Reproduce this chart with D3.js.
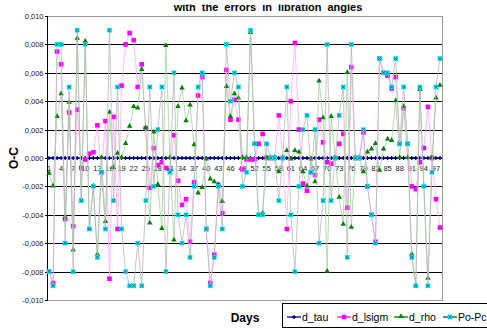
<!DOCTYPE html>
<html lang="en">
<head>
<meta charset="UTF-8">
<title>O-C with the errors in libration angles</title>
<style>
    body { margin: 0; background: #fff; }
    svg { display: block; font-family: "Liberation Sans", Arial, sans-serif; }
    .grid line { stroke: #000; stroke-width: 1; shape-rendering: crispEdges; }
    .axis text { font-size: 7.5px; fill: #222; }
    .axis path, .axis line { stroke: #000; shape-rendering: crispEdges; }
    .lineTau { stroke: #000080; stroke-width: 1; fill: none; }
    .lineLsigm { stroke: #ffaaff; stroke-width: 0.8; fill: none; }
    .lineRho { stroke: #a0d2a0; stroke-width: 0.8; fill: none; }
    .linePoPc { stroke: #b8b8b8; stroke-width: 0.8; fill: none; }
    .legend text { font-size: 10.5px; fill: #000; }
</style>
<script src="https://cdn.jsdelivr.net/npm/d3@7"></script>
</head>
<body>
<script>
    const days = [1,2,3,4,5,6,7,8,9,10,11,12,13,14,15,16,17,18,19,20,
        21,22,23,24,25,26,27,28,29,30,31,32,33,34,35,36,37,38,39,40,
        41,42,43,44,45,46,47,48,49,50,51,52,53,54,55,56,57,58,59,60,
        61,62,63,64,65,66,67,68,69,70,71,72,73,74,75,76,77,78,79,80,
        81,82,83,84,85,86,87,88,89,90,91,92,93,94,95,96,97,98];
    const dayLabels = [1,4,7,10,13,16,19,22,25,28,31,34,37,40,43,46,49,52,55,58,61,64,67,70,73,76,79,82,85,88,91,94,97];
    const yTicks = [-0.010,-0.008,-0.006,-0.004,-0.002,0,0.002,0.004,0.006,0.008,0.010];

    const dTau = [0,0,0,0,0,0,0,0,0,0,0,0,0,0,0,0,0,0,0,0,
        0,0,0,0,0,0,0,0,0,0,0,0,0,0,0,0,0,0,0,0,
        0,0,0,0,0,0,0,0,0,0,0,0,0,0,0,0,0,0,0,0,
        0,0,0,0,0,0,0,0,0,0,0,0,0,0,0,0,0,0,0,0,
        0,0,0,0,0,0,0,0,0,0,0,0,0,0,0,0,0,0];
    const dLsigm = [-0.008,-0.0088,0.0075,0.0066,-0.0043,0.0032,-0.0048,0.0034,-0.0007,-0.0001,
        0.0003,0.0004,0.0023,-0.001,0.0026,-0.0085,0.0029,-0.005,0.0051,0.008,
        0.0088,0.0083,0.005,0.0066,0.0021,-0.0021,0.0007,-0.0005,-0.0003,-0.0007,
        -0.0009,0.0016,-0.0016,-0.0033,-0.0029,-0.0059,-0.0017,0.0044,0.0057,-0.005,
        -0.0088,-0.0068,-0.0019,-0.0039,0.0062,0.0027,0.0041,0.0027,-0.0008,-0.0001,
        -0.0001,-0.0001,0.001,0.0017,0,0,0,0.003,0,-0.005,
        0.004,0.0081,0.002,-0.0018,-0.0023,-0.001,-0.0012,0.0027,0.0011,-0.0003,
        -0.0004,0,0.001,0.0017,-0.0035,0.0064,0,0,0.0018,-0.002,
        -0.004,-0.0059,0.007,0.006,0.0058,0.0049,0.0057,0.001,0.0035,0.001,
        -0.002,-0.0022,-0.0003,0.0007,0.0036,0,-0.0029,-0.0049];
    const dRho = [-0.0011,-0.002,0.0029,0.0045,-0.0042,0.0039,-0.0065,0.0084,-0.003,0.0082,
        -0.005,-0.002,-0.0068,0,-0.0045,0.0032,-0.0007,0.0003,0,0.001,
        0.0022,0.0036,0.0035,0.0062,0.0021,-0.0046,0.0018,-0.0019,-0.005,0.0079,
        0,-0.0058,0.0036,0.0049,0.0026,0.0037,0.0009,-0.0025,-0.0021,-0.0001,
        -0.0015,-0.0017,-0.0019,-0.0031,0.005,0.0029,0.0045,0.0042,0,0,
        0.0088,0.001,-0.004,-0.0039,0,0,0,-0.001,0,0.0005,
        -0.0001,0.0005,0.0004,-0.001,-0.002,-0.0001,-0.0017,0.0054,0.0028,-0.008,
        0.0029,0,-0.0028,-0.0047,0.006,-0.0049,0,0,-0.001,0.0004,
        0.0006,0.001,-0.0009,0.0006,0.0013,0.0012,0.004,0,0.0036,0,
        -0.0068,-0.009,0.0048,-0.002,-0.0085,0,0.0042,0.0051];
    const poPc = [-0.008,-0.009,0.008,0.008,-0.006,0.005,-0.008,0.009,-0.003,0.008,
        -0.005,-0.002,-0.007,-0.001,-0.005,0.009,-0.003,0.005,-0.005,-0.008,
        -0.009,-0.009,-0.006,-0.009,-0.003,0.005,-0.002,0.002,0.005,-0.008,
        -0.001,0.006,-0.004,-0.006,-0.004,-0.007,-0.002,0.005,0.006,-0.005,
        -0.009,-0.007,-0.002,-0.005,0.008,0.004,0.006,0.005,-0.002,-0.001,
        0.009,0.001,-0.004,-0.004,0.001,0,0,-0.003,0,0.005,
        -0.004,-0.008,-0.002,0.002,0.003,-0.001,0.002,-0.006,-0.003,0.008,
        -0.003,0,0.003,0.005,-0.007,0.008,0,0,0.002,-0.002,
        -0.004,-0.006,0.007,0.006,0.006,0.005,0.007,0.001,0.005,0.001,
        -0.007,-0.009,0.005,-0.002,-0.009,-0.001,0.005,0.007];

    const width = 487, height = 329;
    const margins = {top: 16, bottom: 29, left: 47, right: 45};

    const svg = d3.select("body").append("svg")
        .attr("width", width).attr("height", height);

    const xScale = d3.scaleBand()
        .domain(days)
        .range([margins.left, width - margins.right]);
    const xc = d => xScale(d) + xScale.bandwidth() / 2;
    const yScale = d3.scaleLinear()
        .domain([-0.01, 0.01])
        .range([height - margins.bottom, margins.top]);

    const fmt = d3.formatLocale({decimal: ",", thousands: ".", grouping: [3], currency: ["", ""], minus: "-"}).format(".3f");

    // title (only its lower part shows in the original)
    svg.append("clipPath").attr("id", "titleClip")
        .append("rect").attr("x", 0).attr("y", 4.5).attr("width", width).attr("height", 20);
    svg.append("text")
        .attr("clip-path", "url(#titleClip)")
        .attr("x", 268).attr("y", 10.5)
        .attr("text-anchor", "middle")
        .style("font-weight", "bold").style("font-size", "11px")
        .style("word-spacing", "3px")
        .text("with the errors in libration angles");

    // gridlines
    svg.append("g").attr("class", "grid")
        .selectAll("line")
        .data(yTicks.filter(v => Math.abs(v) < 0.0099))
        .enter().append("line")
        .attr("x1", margins.left).attr("x2", width - margins.right)
        .attr("y1", d => Math.round(yScale(d)) + 0.5)
        .attr("y2", d => Math.round(yScale(d)) + 0.5);

    // plot border
    svg.append("rect")
        .attr("x", margins.left + 0.5).attr("y", margins.top + 0.5)
        .attr("width", width - margins.right - margins.left)
        .attr("height", height - margins.bottom - margins.top)
        .attr("fill", "none").attr("stroke", "#9a9a9a");

    // y axis
    const yAxis = d3.axisLeft(yScale).tickValues(yTicks).tickFormat(fmt).tickSize(3).tickPadding(1);
    const gy = svg.append("g").attr("class", "axis")
        .attr("transform", `translate(${margins.left + 0.5},0)`)
        .call(yAxis);
    gy.select(".domain").attr("d", `M0,${yScale(0.01)}V${yScale(-0.01)}`);

    // x axis along zero
    const xAxis = d3.axisBottom(xScale).tickValues(dayLabels).tickSize(0).tickPadding(7);
    const gx = svg.append("g").attr("class", "axis")
        .attr("transform", `translate(0,${Math.round(yScale(0)) + 0.5})`)
        .call(xAxis);
    gx.select(".domain").remove();

    function lineOf(values) {
        return d3.line().x((v, i) => xc(days[i])).y(v => yScale(v))(values);
    }

    const series = [
        {name: "d_tau", values: dTau, cls: "lineTau"},
        {name: "d_lsigm", values: dLsigm, cls: "lineLsigm"},
        {name: "d_rho", values: dRho, cls: "lineRho"},
        {name: "Po-Pc", values: poPc, cls: "linePoPc"}
    ];

    const triangle = d3.symbol().type(d3.symbolTriangle).size(13);

    function drawMarker(g, name, cx, cy) {
        if (name === "d_tau") {
            g.append("path").attr("d", `M${cx - 2},${cy}H${cx + 2}M${cx},${cy - 2}V${cy + 2}`)
                .attr("stroke", "#000080").attr("stroke-width", 1.3);
        } else if (name === "d_lsigm") {
            g.append("rect").attr("x", cx - 2.3).attr("y", cy - 2.3)
                .attr("width", 4.6).attr("height", 4.6).attr("fill", "#ff00ff");
        } else if (name === "d_rho") {
            g.append("path").attr("d", triangle())
                .attr("transform", `translate(${cx},${cy - 0.5})`)
                .attr("fill", "#008000");
        } else {
            g.append("rect").attr("x", cx - 2.3).attr("y", cy - 2.3)
                .attr("width", 4.6).attr("height", 4.6).attr("fill", "#00e8f0");
            g.append("path").attr("d", `M${cx - 1.6},${cy - 1.6}L${cx + 1.6},${cy + 1.6}M${cx + 1.6},${cy - 1.6}L${cx - 1.6},${cy + 1.6}`)
                .attr("stroke", "#105a80").attr("stroke-width", 0.8);
        }
    }

    series.forEach(s => {
        const g = svg.append("g");
        g.append("path").attr("class", s.cls).attr("d", lineOf(s.values));
        s.values.forEach((v, i) => drawMarker(g, s.name, xc(days[i]), yScale(v)));
    });

    // axis titles
    svg.append("text")
        .attr("transform", `translate(18,${yScale(0)}) rotate(-90)`)
        .attr("text-anchor", "middle")
        .style("font-weight", "bold").style("font-size", "12px")
        .text("O-C");
    svg.append("text")
        .attr("x", 245).attr("y", 322)
        .attr("text-anchor", "middle")
        .style("font-weight", "bold").style("font-size", "12px")
        .text("Days");

    // legend
    const legend = svg.append("g").attr("class", "legend");
    legend.append("rect")
        .attr("x", 282.5).attr("y", 303.5).attr("width", 230).attr("height", 24)
        .attr("fill", "#fff").attr("stroke", "#000");
    const legendItems = [
        {name: "d_tau", x: 287, color: "#000080"},
        {name: "d_lsigm", x: 337, color: "#ff00ff"},
        {name: "d_rho", x: 394, color: "#008000"},
        {name: "Po-Pc", x: 443, color: "#333"}
    ];
    legendItems.forEach(it => {
        const g = legend.append("g");
        g.append("line")
            .attr("x1", it.x).attr("x2", it.x + 14).attr("y1", 317).attr("y2", 317)
            .attr("stroke", it.color).attr("stroke-width", 1.3);
        drawMarker(g, it.name, it.x + 7, 317);
        g.append("text").attr("x", it.x + 15).attr("y", 321).text(it.name);
    });
</script>
</body>
</html>
